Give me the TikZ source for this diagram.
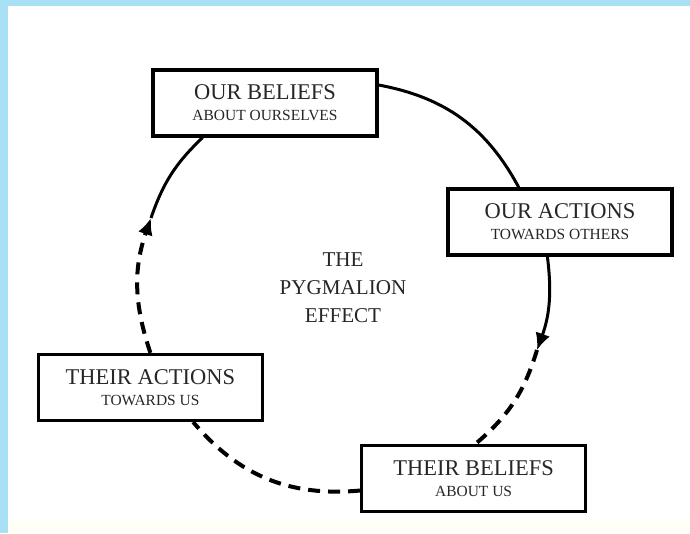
\documentclass[tikz,border=0pt]{standalone}
\usepackage{fontspec}
\setmainfont{Liberation Serif}
\usetikzlibrary{arrows.meta}
\definecolor{framecol}{HTML}{A8E0F6}
\definecolor{footcol}{HTML}{FFFEF7}
\definecolor{textcol}{HTML}{262626}
\begin{document}
\begin{tikzpicture}[
    box/.style={draw,rectangle,line width=0.08cm,minimum width=5.6cm,minimum height=1.65cm,align=center,text=textcol,font=\fontsize{11}{15}\selectfont},
    link/.style={line width=0.075cm},
    dashlink/.style={line width=0.1cm,dash pattern=on 0.3cm off 0.2cm},
    tip/.style={-{Latex[length=0.42cm,width=0.38cm]}}
  ]
                \useasboundingbox (0,0) rectangle (17.25,13.325);
                \fill[footcol] (0,0) rectangle (17.25,0.32);
                \fill[framecol] (0,0) rectangle (0.2,13.325);
                \fill[framecol] (0,13.175) rectangle (17.25,13.325);

                \node[box] (OB) at (6.625,10.75) {{\fontsize{16}{18}\selectfont OUR BELIEFS}\\ABOUT OURSELVES};
                \node[box] (OA) at (14.0,7.775) {{\fontsize{16}{18}\selectfont OUR ACTIONS}\\TOWARDS OTHERS};
                \node[box] (TB) at (11.84,1.36) {{\fontsize{16}{18}\selectfont THEIR BELIEFS}\\ABOUT US};
                \node[box] (TA) at (3.76,3.64) {{\fontsize{16}{18}\selectfont THEIR ACTIONS}\\TOWARDS US};

                \node[align=center,text=textcol,font=\fontsize{15}{20}\selectfont] (PE) at (8.575,6.14) {THE\\PYGMALION\\EFFECT};

                \coordinate (ar) at (13.425,4.575);
                \coordinate (al) at (3.775,7.875);

                \draw[link] (OB.9) to[bend left=25.6] (OA.140);

                \draw[link,tip] (OA.250) to[bend left=13.5] (ar);
                \draw[dashlink] (ar) to[bend left=16.3] (TB.87);

                \draw[dashlink] (TB.186) to[bend left=27.5] (TA.321);

                \draw[dashlink,tip] (TA.north) to[bend left=19] (al);
                \draw[link] (al) to[bend left=13.7] (OB.209);
            \end{tikzpicture}
\end{document}
